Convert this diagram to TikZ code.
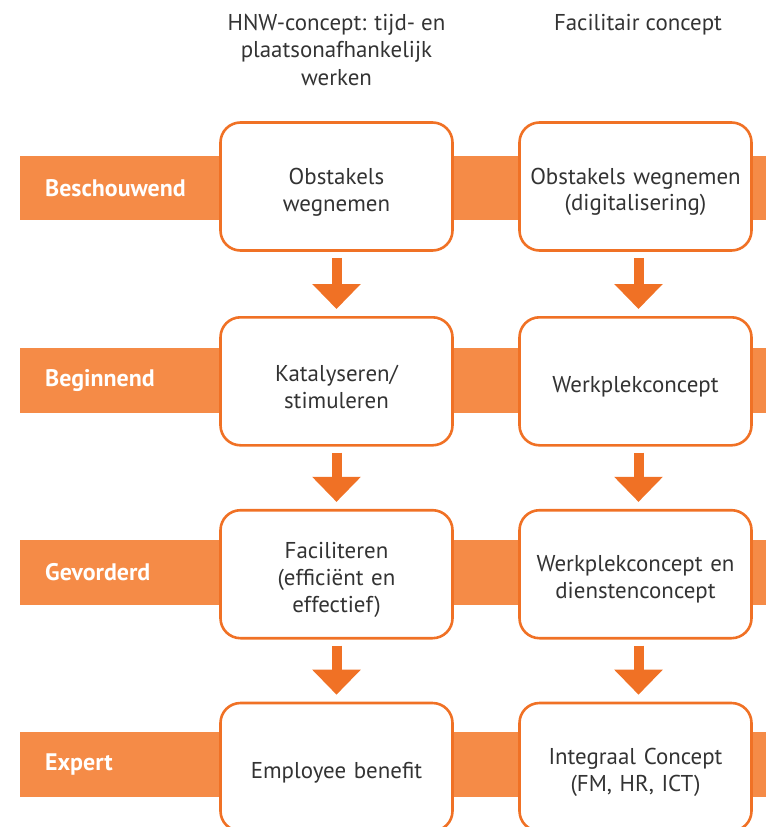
\documentclass[tikz,border=0pt]{standalone}
\usepackage{fontspec}
\setmainfont{PT Sans}
\usetikzlibrary{arrows.meta}
\definecolor{band}{HTML}{F58B47}
\definecolor{edge}{HTML}{F07125}
\definecolor{ink}{HTML}{333333}
\newcommand{\firstline}{\rule{0pt}{27bp}}

\begin{document}
\begin{tikzpicture}[x=1bp, y=-1bp,
    level/.style={fill=band, anchor=west, minimum height=64.5bp, text width=696bp, inner xsep=25bp, inner ysep=0pt, align=left, text=white, font=\fontsize{24}{28}\selectfont\bfseries},
    stage/.style={draw=edge, line width=2.6bp, fill=white, rounded corners=20bp, minimum width=232bp, minimum height=128bp, text width=220bp, inner xsep=6bp, align=center, text=ink, font=\fontsize{23}{27}\selectfont, execute at begin node=\firstline},
    head/.style={anchor=north, inner sep=0pt, align=center, text=ink, font=\fontsize{23}{27.5}\selectfont},
    flow/.style={draw=edge, line width=10bp, -{Triangle[width=47bp,length=25bp]}, shorten <=6bp, shorten >=7bp}
  ]
    \useasboundingbox (0,0) rectangle (766,827);
    \clip (0,0) rectangle (766,827);
    % column headings
    \node[head] (hnw) at (336.5,14) {HNW-concept: tijd- en\\plaatsonafhankelijk\\werken};
    \node[head] (fac) at (638,14) {Facilitair concept};
    % level bands
    \node[level] (beschouwend) at (20,188) {Beschouwend};
    \node[level] (beginnend) at (20,380.5) {Beginnend};
    \node[level] (gevorderd) at (20,572.3) {Gevorderd};
    \node[level] (expert) at (20,764.5) {Expert};
    % boxes per level
    \node[stage] (hnw1) at (336.5,186.5) {Obstakels\\wegnemen};
    \node[stage] (fac1) at (635.5,186.5) {Obstakels wegnemen\\(digitalisering)};
    \node[stage] (hnw2) at (336.5,381.3) {Katalyseren/\\stimuleren};
    \node[stage] (fac2) at (635.5,381.3) {Werkplekconcept};
    \node[stage] (hnw3) at (336.5,574.2) {Faciliteren\\(efficiënt en\\effectief)};
    \node[stage] (fac3) at (635.5,574.2) {Werkplekconcept en\\dienstenconcept};
    \node[stage] (hnw4) at (336.5,767) {Employee benefit};
    \node[stage] (fac4) at (635.5,767) {Integraal Concept\\(FM, HR, ICT)};
    % arrows between levels
    \draw[flow] (hnw1) -- (hnw2);
    \draw[flow] (hnw2) -- (hnw3);
    \draw[flow] (hnw3) -- (hnw4);
    \draw[flow] ([xshift=3bp]fac1.south) -- ([xshift=3bp]fac2.north);
    \draw[flow] ([xshift=3bp]fac2.south) -- ([xshift=3bp]fac3.north);
    \draw[flow] ([xshift=3bp]fac3.south) -- ([xshift=3bp]fac4.north);
\end{tikzpicture}
\end{document}
